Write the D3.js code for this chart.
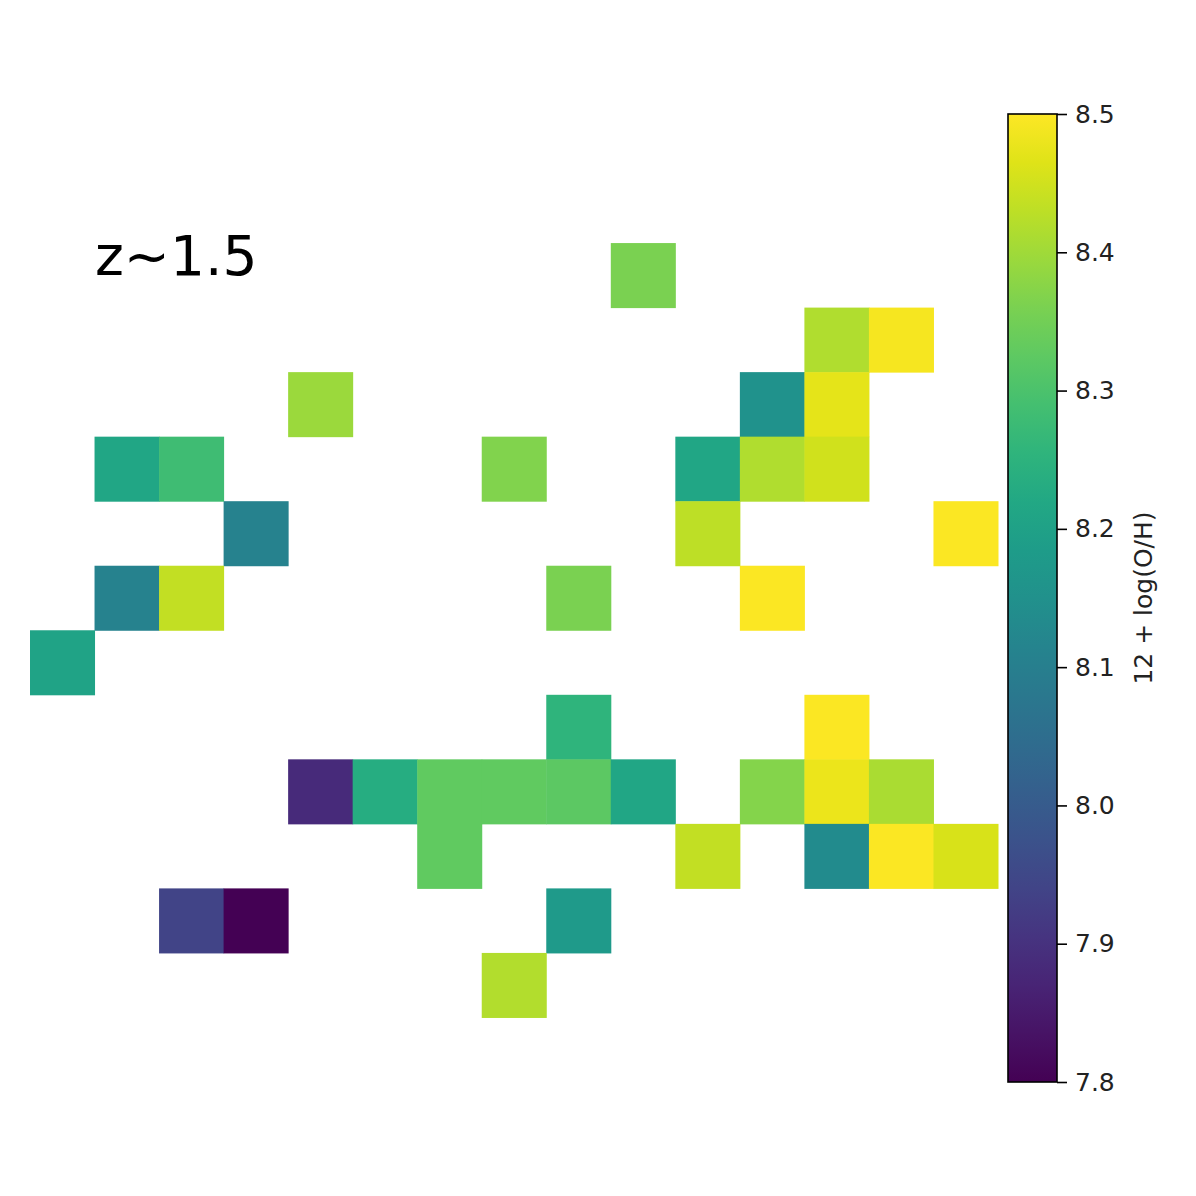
<!DOCTYPE html>
<html>
<head>
<meta charset="utf-8">
<script src="https://cdnjs.cloudflare.com/ajax/libs/d3/7.8.5/d3.min.js"></script>
<style>
  html, body { margin: 0; padding: 0; background: #fff; }
  svg { display: block; font-family: "DejaVu Sans", sans-serif; }
</style>
</head>
<body>
<svg id="chart" width="1196" height="1196"></svg>
<script>
// cells of the map: row (0 = top), column, 12 + log(O/H)
var cellRows = [2, 3, 3, 4, 4, 4, 5, 5, 5, 5, 5, 5, 6, 6, 6, 7, 7, 7, 7, 8, 9, 9,
                10, 10, 10, 10, 10, 10, 10, 10, 10, 11, 11, 11, 11, 11, 12, 12, 12, 13];
var cellCols = [9, 12, 13, 4, 11, 12, 1, 2, 7, 10, 11, 12, 3, 10, 14, 1, 2, 8, 11, 0, 8, 12,
                4, 5, 6, 7, 8, 9, 11, 12, 13, 6, 10, 12, 13, 14, 2, 3, 8, 7];
var cellValues = [8.36, 8.416, 8.49, 8.395, 8.157, 8.47, 8.213, 8.283, 8.367, 8.213, 8.416, 8.45,
                  8.11, 8.43, 8.495, 8.11, 8.437, 8.36, 8.495, 8.205, 8.255, 8.495,
                  7.884, 8.234, 8.33, 8.33, 8.325, 8.213, 8.37, 8.48, 8.41,
                  8.33, 8.437, 8.136, 8.495, 8.458, 7.94, 7.80, 8.178, 8.42];
var colorTicks = [7.8, 7.9, 8.0, 8.1, 8.2, 8.3, 8.4, 8.5];
var nGrid = 15;
var cbLabel = "12 + log(O/H)";
var panelLabel = "z~1.5";

var svg = d3.select("#chart");
var margin = {left: 30, top: 114};
var size = 968;

var x = d3.scaleBand().domain(d3.range(nGrid)).range([margin.left, margin.left + size]);
var y = d3.scaleBand().domain(d3.range(nGrid)).range([margin.top, margin.top + size]);
var color = d3.scaleSequential(d3.interpolateViridis).domain([7.8, 8.5]);

var cells = cellValues.map(function(v, i) { return {r: cellRows[i], c: cellCols[i], v: v}; });

svg.append("g").selectAll("rect")
  .data(cells)
  .enter()
  .append("rect")
  .attr("x", function(d) { return x(d.c); })
  .attr("y", function(d) { return y(d.r); })
  .attr("width", x.bandwidth() + 0.5)
  .attr("height", y.bandwidth() + 0.5)
  .attr("fill", function(d) { return color(d.v); });

svg.append("text")
  .attr("x", 95)
  .attr("y", 275)
  .attr("font-size", 55)
  .attr("fill", "#000")
  .text(panelLabel);

// colorbar
var cbX = 1008, cbW = 49;
var cy = d3.scaleLinear().domain([7.8, 8.5]).range([margin.top + size, margin.top]);

var grad = svg.append("defs").append("linearGradient")
  .attr("id", "cbgrad")
  .attr("x1", 0).attr("y1", 1).attr("x2", 0).attr("y2", 0);
d3.range(0, 1.0001, 0.05).forEach(function(t) {
  grad.append("stop").attr("offset", t).attr("stop-color", d3.interpolateViridis(t));
});

svg.append("rect")
  .attr("x", cbX)
  .attr("y", margin.top)
  .attr("width", cbW)
  .attr("height", size)
  .attr("fill", "url(#cbgrad)")
  .attr("stroke", "#000")
  .attr("stroke-width", 1.6);

var cbAxis = d3.axisRight(cy)
  .tickValues(colorTicks)
  .tickFormat(d3.format(".1f"))
  .tickSize(10)
  .tickPadding(8);

var ax = svg.append("g")
  .attr("transform", "translate(" + (cbX + cbW) + ",0)")
  .call(cbAxis);
ax.select(".domain").remove();
ax.selectAll("line").attr("stroke", "#000").attr("stroke-width", 1.6);
ax.selectAll("text").attr("font-size", 25).attr("fill", "#222")
  .attr("font-family", "DejaVu Sans, sans-serif");

svg.append("text")
  .attr("transform", "translate(1152," + (margin.top + size / 2) + ") rotate(-90)")
  .attr("text-anchor", "middle")
  .attr("font-size", 25)
  .attr("fill", "#222")
  .text(cbLabel);
</script>
</body>
</html>
